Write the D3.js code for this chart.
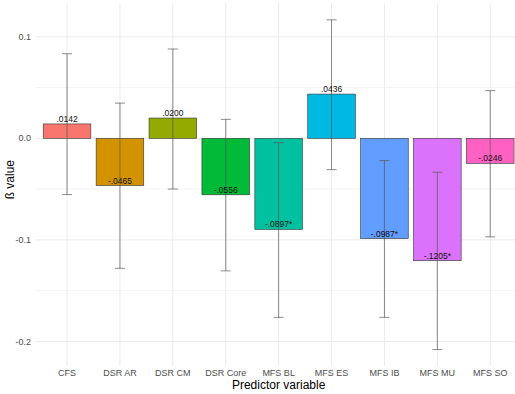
<!DOCTYPE html>
<html lang="en">
<head>
  <meta charset="UTF-8" />
  <title>Predictor beta values</title>
  <script src="https://cdn.jsdelivr.net/npm/d3@7"></script>
  <style>
    body { margin: 0; background: #fff; }
    svg { display: block; font-family: "Liberation Sans", Arial, sans-serif; }
    .grid line { stroke: #ebebeb; }
    .grid-minor line { stroke: #f4f4f4; }
    .tick-label { fill: #4d4d4d; font-size: 9px; }
  </style>
</head>
<body>
  <svg width="515" height="394"></svg>
  <script>
    const predictors = ["CFS", "DSR AR", "DSR CM", "DSR Core", "MFS BL", "MFS ES", "MFS IB", "MFS MU", "MFS SO"];
    const betas = [0.0142, -0.0465, 0.0200, -0.0556, -0.0897, 0.0436, -0.0987, -0.1205, -0.0246];
    const lower = [-0.0554, -0.128, -0.0499, -0.1305, -0.1763, -0.0308, -0.1763, -0.208, -0.097];
    const upper = [0.0833, 0.0347, 0.088, 0.0187, -0.0042, 0.1167, -0.0219, -0.0334, 0.047];
    const labels = [".0142", "-.0465", ".0200", "-.0556", "-.0897*", ".0436", "-.0987*", "-.1205*", "-.0246"];
    const colors = ["#F8766D", "#D39200", "#93AA00", "#00BA38", "#00C19F", "#00B9E3", "#619CFF", "#DB72FB", "#FF61C3"];
    const yTicks = [-0.2, -0.1, 0.0, 0.1];
    const yMinor = [-0.15, -0.05, 0.05];

    const svg = d3.select("svg");
    const panelTop = 3.3, panelBottom = 366;
    const panelLeft = 35.3;
    const step = 52.9;
    const panelRight = panelLeft + step * 9.2;

    const xc = d3.scalePoint().domain(predictors).range([panelLeft + step * 0.6, panelRight - step * 0.6]);
    const barW = step * 0.9;

    const y = d3.scaleLinear().domain([-0.2242, 0.133]).range([panelBottom, panelTop]);

    // grid
    svg.append("g").attr("class", "grid-minor").selectAll("line").data(yMinor).join("line")
      .attr("x1", panelLeft).attr("x2", panelRight).attr("y1", d => y(d)).attr("y2", d => y(d));
    svg.append("g").attr("class", "grid").selectAll("line").data(yTicks).join("line")
      .attr("x1", panelLeft).attr("x2", panelRight).attr("y1", d => y(d)).attr("y2", d => y(d));
    svg.append("g").attr("class", "grid").selectAll("line").data(predictors).join("line")
      .attr("x1", d => xc(d)).attr("x2", d => xc(d)).attr("y1", panelTop).attr("y2", panelBottom);

    const rows = predictors.map((p, i) => ({ p, b: betas[i], lo: lower[i], hi: upper[i], lab: labels[i], col: colors[i] }));

    // bars
    svg.append("g").selectAll("rect").data(rows).join("rect")
      .attr("x", d => xc(d.p) - barW / 2)
      .attr("width", barW)
      .attr("y", d => y(Math.max(0, d.b)))
      .attr("height", d => Math.abs(y(d.b) - y(0)))
      .attr("fill", d => d.col)
      .attr("stroke", "#333")
      .attr("stroke-width", 0.6);

    // error bars
    const eb = svg.append("g").attr("stroke", "#555").attr("stroke-width", 0.8).attr("stroke-opacity", 0.85);
    eb.selectAll(".v").data(rows).join("line")
      .attr("x1", d => xc(d.p)).attr("x2", d => xc(d.p))
      .attr("y1", d => y(d.hi)).attr("y2", d => y(d.lo));
    eb.selectAll(".h").data(rows.flatMap(d => [{ p: d.p, v: d.hi }, { p: d.p, v: d.lo }])).join("line")
      .attr("x1", d => xc(d.p) - 5).attr("x2", d => xc(d.p) + 5)
      .attr("y1", d => y(d.v)).attr("y2", d => y(d.v));

    // value labels
    svg.append("g").selectAll("text").data(rows).join("text")
      .attr("x", d => xc(d.p))
      .attr("y", d => y(d.b) - 2)
      .attr("text-anchor", "middle")
      .attr("font-size", "8.5px")
      .attr("fill", "#111")
      .text(d => d.lab);

    // y axis labels
    svg.append("g").selectAll("text").data(yTicks).join("text")
      .attr("class", "tick-label")
      .attr("x", 31).attr("y", d => y(d)).attr("dy", "0.35em")
      .attr("text-anchor", "end")
      .text(d => d3.format(".1f")(d).replace("−", "-"));

    // x axis labels
    svg.append("g").selectAll("text").data(predictors).join("text")
      .attr("class", "tick-label")
      .attr("x", d => xc(d)).attr("y", 376)
      .attr("text-anchor", "middle")
      .text(d => d);

    svg.append("text")
      .attr("x", (panelLeft + panelRight) / 2).attr("y", 388.5)
      .attr("text-anchor", "middle").attr("font-size", "12px").attr("fill", "#000")
      .text("Predictor variable");

    svg.append("text")
      .attr("transform", `translate(14,${(panelTop + panelBottom) / 2 - 5}) rotate(-90)`)
      .attr("text-anchor", "middle").attr("font-size", "12px").attr("fill", "#000")
      .text("ß value");
  </script>
</body>
</html>
